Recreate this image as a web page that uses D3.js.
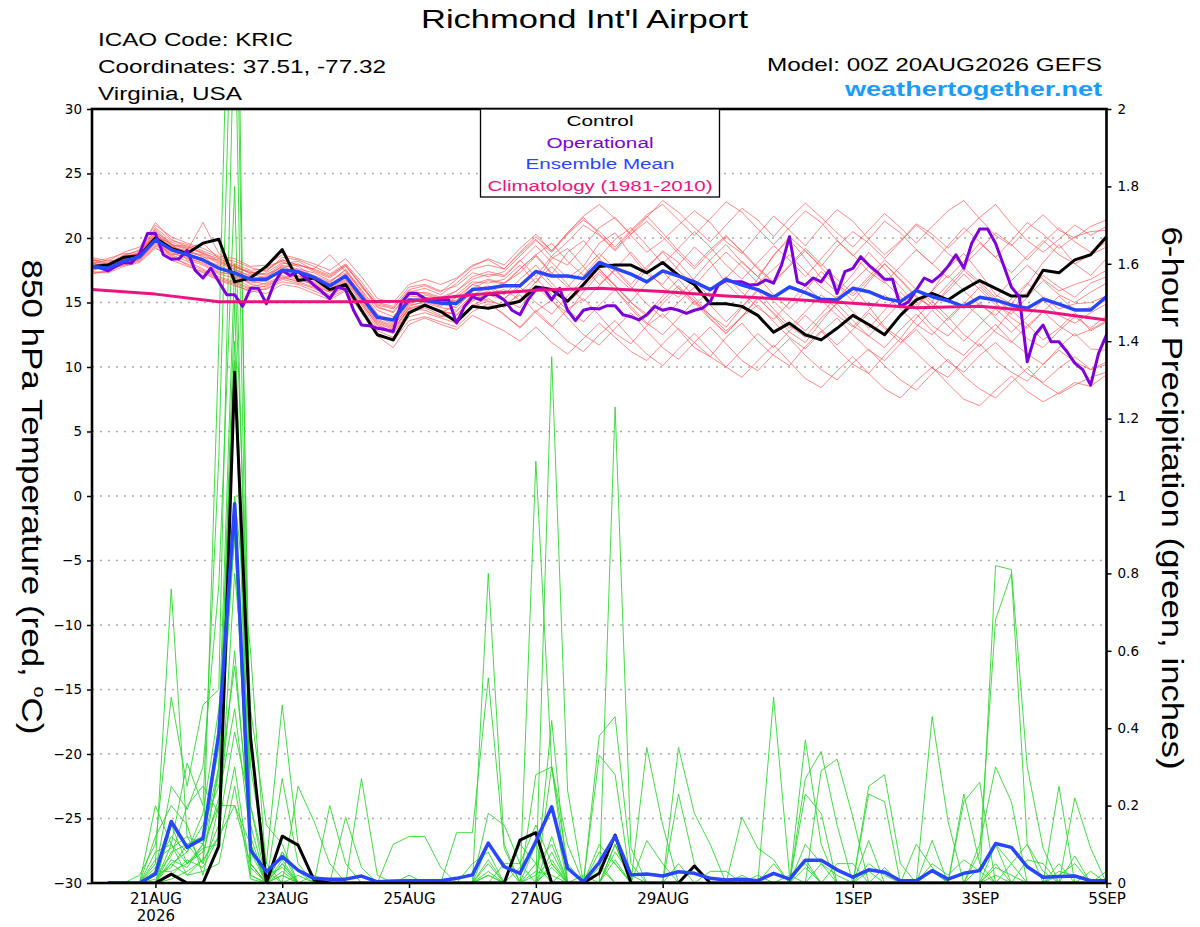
<!DOCTYPE html>
<html>
<head>
<meta charset="utf-8">
<script src="https://cdn.jsdelivr.net/npm/d3@7"></script>
<style>
  body { margin: 0; background: #fff; }
  svg text { font-family: "Liberation Sans", Arial, Helvetica, sans-serif; }
  .tick text { font-family: "DejaVu Sans", sans-serif; }
</style>
</head>
<body>
<svg id="chart" width="1200" height="927"></svg>
<script>
// ---- data (850 hPa temp in C, 6-hour precip in inches) ----
// ensemble / control steps are 6-hourly from 00Z 20AUG2026, operational is 3-hourly
const tickDays = ['2026-08-21', '2026-08-23', '2026-08-25', '2026-08-27', '2026-08-29', '2026-09-01', '2026-09-03', '2026-09-05']
const tickLabels = ['21AUG', '23AUG', '25AUG', '27AUG', '29AUG', '1SEP', '3SEP', '5SEP']
const tempTicks = [30, 25, 20, 15, 10, 5, 0, -5, -10, -15, -20, -25, -30]
const precipTicks = [0, 0.2, 0.4, 0.6, 0.8, 1, 1.2, 1.4, 1.6, 1.8, 2]

const controlTemp = [17.8,17.9,18.5,18.6,20.0,19.2,18.8,19.6,19.9,16.6,16.9,17.8,19.1,16.7,16.9,16.0,16.4,14.4,12.5,12.1,14.2,14.8,
  14.3,13.5,14.7,14.55,14.8,15.1,16.2,16.0,15.1,16.4,17.8,17.9,17.9,17.3,18.1,17.1,16.4,14.9,14.9,14.7,14.0,
  12.7,13.4,12.5,12.1,13.0,14.0,13.3,12.5,14.0,15.2,15.7,15.2,16.0,16.7,16.1,15.5,15.5,17.5,17.3,18.3,18.7,20.1]
const meanTemp = [17.8,17.65,18.2,18.55,19.85,19.1,18.7,18.3,17.65,17.3,16.8,16.8,17.5,17.4,16.95,16.3,17.05,15.45,13.85,13.65,15.2,15.15,
  14.95,14.95,16.0,16.1,16.3,16.3,17.4,17.05,17.05,16.85,18.1,17.65,17.2,16.6,17.45,17.05,16.6,16.0,16.8,16.35,16.0,
  15.4,16.2,15.76,15.25,15.2,16.1,15.84,15.32,15.07,15.92,15.45,15.14,14.68,15.4,15.2,14.8,14.55,15.27,14.88,14.42,14.42,15.45]
const operationalTemp = [17.8,17.7,17.45,17.8,18.1,18.05,18.8,20.35,20.35,18.7,18.35,18.4,19.05,17.5,16.9,17.65,
  16.6,15.6,15.6,14.7,16.1,16.1,14.9,16.5,17.5,17.1,17.4,16.9,16.35,15.85,15.3,16.2,
  16.0,14.4,13.25,13.2,13.0,12.9,12.75,14.95,15.7,15.7,15.3,15.2,15.2,15.2,13.4,14.7,
  15.45,15.2,15.65,15.6,15.2,14.4,14.05,15.2,16.0,16.1,15.2,16.1,14.4,13.6,14.4,14.55,
  14.5,14.75,14.75,14.05,13.9,13.65,14.05,14.7,14.4,14.55,14.4,14.15,14.4,14.55,15.05,16.35,
  16.7,16.6,16.6,16.35,16.4,16.75,16.5,17.9,20.1,16.6,16.35,16.9,16.6,17.5,15.7,17.4,
  17.65,18.55,17.9,17.4,16.8,16.8,14.7,15.05,15.97,16.9,16.6,17.1,17.8,18.7,17.65,19.6,
  20.7,20.7,19.6,17.9,16.2,15.45,10.4,12.5,13.25,11.96,11.96,11.2,10.3,9.8,8.6,11.06,12.5]
// climatology is daily (00Z each day)
const climatology = [16.0,15.65,15.05,15.05,15.05,15.1,15.6,15.95,16.1,15.85,15.5,15.25,14.95,14.6,14.7,14.3,13.65]

// precipitation starts with the period ending 06Z 20AUG
const controlPrecip = [0,0,0,0,.023,0,0,.096, 1.32,.377,0,.121,.098,.008,0,0, 0,0,0,0,0,0,0,0,
  0,0,.111,.13,0,0,0,.025, .124,0,0,0,0,.044,0,0, 0,0,0,0,0,0,0,0, 0,0,0,0,0,0,0,0, 0,0,0,0,0,0,0,0]
const meanPrecip = [0,0,0,.023,.159,.092,.115,.387, .98,.085,.029,.068,.033,.012,.01,.01,
  .018,.003,.005,.006,.006,.006,.012,.021, .103,.042,.025,.107,.197,.038,.003,.053,
  .121,.021,.023,.018,.029,.025,.012,.008, .01,.006,.025,.01,.059,.059,.034,.015,
  .034,.028,.006,.006,.032,.01,.025,.032, .102,.092,.042,.015,.017,.018,.006,.006]

const tempMember01 = [17.5,17.9,18.4,18.9,20.6,19.4,18.9,18.7,18.0,17.6,17.0,17.3,18.1,17.8,17.0,16.5,17.6,15.9,14.1,13.4,15.0,15.6,15.2,15.9,16.8,17.2,
  17.0,18.2,19.4,18.1,16.9,17.8,19.6,20.4,18.7,17.2,16.4,17.9,19.3,18.2,16.5,15.3,16.8,18.7,19.9,18.4,16.9,15.8,17.2,18.9,17.6,16.2,14.8,15.9,17.7,18.8,17.3,15.6,14.9,16.4,18.1,19.5,18.0,17.1,18.4]
const tempMember02 = [18.1,17.7,18.0,18.7,20.1,19.6,18.3,17.9,17.2,16.9,16.2,16.5,17.1,16.8,16.4,15.8,16.6,15.0,13.2,12.8,14.5,14.9,14.3,14.1,15.2,15.6,
  15.2,14.6,16.3,15.1,14.2,15.8,17.2,16.0,14.5,13.3,14.9,16.1,15.2,13.8,12.6,13.9,15.4,14.1,12.7,11.9,13.5,15.0,16.2,14.7,13.1,12.2,13.8,15.1,13.9,12.5,11.6,12.9,14.4,13.3,12.1,13.0,14.2,12.8,13.5]
const tempMember03 = [17.3,17.4,18.6,19.1,21.2,19.9,19.3,18.9,18.2,17.8,17.4,17.1,18.0,18.2,17.5,17.0,17.9,16.3,14.6,14.3,15.8,16.1,15.6,16.5,17.6,17.9,
  17.6,18.8,19.9,18.5,17.9,19.3,20.8,21.6,20.2,18.9,19.8,21.0,22.1,21.2,19.7,18.8,20.3,21.7,20.6,19.4,20.9,22.2,21.3,19.9,18.7,19.8,21.1,20.3,19.2,20.4,21.6,22.6,21.1,19.8,18.9,19.9,21.0,20.2,20.9]
const tempMember04 = [17.9,17.6,17.9,18.3,19.4,18.7,18.2,17.6,17.0,16.6,16.1,16.0,16.8,16.5,16.1,15.5,16.2,14.6,12.8,12.3,13.9,14.2,13.8,13.4,14.7,15.1,
  14.8,15.6,14.2,13.1,14.5,15.3,14.0,12.6,11.8,13.2,14.1,12.9,11.5,10.8,12.3,13.4,12.0,10.9,10.1,11.6,12.8,11.4,10.2,9.5,10.9,12.2,11.1,9.9,9.2,10.6,11.8,10.5,9.6,8.9,10.2,11.3,10.4,9.8,10.4]
const tempMember05 = [18.3,18.1,18.5,18.6,20.0,19.3,19.0,21.2,18.8,18.0,17.5,17.6,18.3,17.9,17.6,18.7,17.4,16.2,14.9,14.6,15.9,15.7,15.3,15.1,16.4,16.0,
  16.5,17.3,18.6,17.2,18.9,19.8,18.4,17.1,16.0,17.6,19.0,18.1,16.7,15.4,16.9,18.2,17.0,15.6,14.5,15.9,17.4,16.3,15.1,16.6,18.0,16.8,15.5,14.6,16.1,17.5,16.4,15.2,14.4,15.8,17.1,16.2,15.4,16.5,17.0]
const tempMember06 = [17.6,17.8,18.3,18.4,19.6,18.9,18.4,18.1,17.4,17.1,16.6,16.9,17.3,17.0,16.8,16.1,16.9,15.3,13.6,13.1,14.8,15.0,14.6,14.4,15.6,16.2,
  15.3,16.4,17.5,16.2,15.0,16.1,17.4,16.3,15.0,14.1,15.5,16.8,15.4,14.0,13.1,14.6,15.9,14.5,13.2,12.3,13.8,14.9,13.6,12.4,11.5,12.9,14.1,12.8,11.7,10.9,12.2,13.3,12.0,11.0,10.2,11.5,12.6,11.4,11.3]
const tempMember07 = [18.0,18.3,18.1,18.8,20.4,19.7,19.2,19.6,18.4,17.9,17.2,16.9,17.9,17.6,17.3,16.7,17.3,16.0,14.4,13.9,15.5,15.4,15.1,15.6,16.6,16.5,
  16.8,17.9,16.5,18.4,19.2,17.8,16.4,17.6,18.9,17.5,16.2,15.4,16.9,18.3,19.5,18.1,17.0,18.6,20.1,19.0,17.8,19.3,20.5,19.6,18.4,19.7,21.0,20.0,18.8,17.9,19.1,20.4,19.5,18.3,19.6,20.8,19.7,18.9,19.7]
const tempMember08 = [17.7,17.5,18.2,18.5,19.9,18.5,18.0,17.5,16.9,16.5,16.0,16.3,16.9,17.1,16.5,15.9,16.7,15.1,13.4,12.9,14.6,14.8,14.4,14.0,15.1,15.7,
  16.0,15.2,16.6,17.8,16.4,15.1,16.3,17.5,16.2,14.9,13.8,15.0,16.2,14.8,13.5,14.7,16.0,15.1,13.9,12.8,14.1,15.5,14.3,13.0,14.4,15.8,14.6,13.2,12.4,13.7,15.0,13.8,12.7,13.9,15.2,14.0,13.4,14.2,14.9]
const tempMember09 = [18.4,18.0,18.7,19.0,20.8,19.8,19.5,19.0,18.5,18.2,17.7,17.4,18.5,18.3,17.8,17.2,18.0,16.6,15.0,14.7,16.2,16.4,15.9,16.3,17.3,17.0,
  17.4,18.6,19.8,18.9,20.3,21.4,20.5,19.3,20.6,21.8,22.6,21.4,20.2,21.5,22.8,22.0,20.7,19.5,20.8,22.1,21.2,19.8,18.6,19.9,21.3,20.4,19.1,18.0,19.4,20.8,19.7,18.5,19.8,21.2,20.3,19.2,20.1,20.5,20.6]
const tempMember10 = [17.4,17.3,17.8,18.1,19.2,18.6,17.9,17.3,16.7,16.3,15.9,15.7,16.4,16.2,15.7,15.2,15.9,14.4,12.6,12.0,13.6,13.9,13.5,13.1,14.3,14.9,
  14.1,13.0,14.3,15.2,13.8,12.5,11.7,13.0,14.2,12.8,11.5,10.6,11.9,13.1,11.8,10.5,9.7,11.0,12.2,10.9,9.8,9.0,10.3,11.4,10.1,9.0,8.2,9.5,10.6,9.3,8.3,7.6,8.8,9.9,8.7,7.9,8.6,9.2,9.6]
const tempMember11 = [18.2,18.4,18.8,18.7,20.3,19.5,19.1,18.5,18.3,17.5,17.1,17.8,18.2,17.4,16.9,16.4,17.2,15.7,14.0,13.6,15.3,15.2,14.8,15.2,16.1,16.7,
  16.4,17.6,18.7,19.6,18.2,17.1,18.5,19.9,20.8,19.4,18.0,19.2,20.5,19.3,17.9,16.8,18.1,19.4,18.3,17.0,18.4,19.8,18.7,17.4,16.5,17.8,19.1,18.0,16.9,18.2,19.6,18.5,17.3,18.6,19.8,18.7,18.0,18.7,19.3]
const tempMember12 = [17.8,17.9,18.3,18.8,20.1,19.2,18.8,18.4,17.7,17.4,16.9,16.6,17.6,17.5,17.1,16.6,17.5,15.8,13.9,13.3,14.9,15.3,14.9,14.6,15.9,16.3,
  15.6,16.8,17.9,16.5,15.2,16.4,17.6,16.3,15.0,13.9,15.2,16.3,15.0,13.7,12.6,13.9,14.8,13.5,12.3,11.4,12.7,13.8,12.5,11.3,10.5,11.8,12.9,11.6,10.4,9.6,10.9,11.9,10.7,9.5,8.8,9.9,10.8,9.8,10.2]
const tempMember13 = [17.6,17.7,18.1,18.5,19.7,19.0,18.6,18.2,17.8,17.0,16.5,16.7,17.4,16.9,16.3,15.8,16.4,14.8,13.0,12.6,14.2,14.6,14.0,13.7,14.8,15.3,
  14.6,15.8,16.9,15.6,14.4,13.5,14.8,16.0,14.7,13.4,12.5,13.8,15.1,14.0,12.8,13.9,15.3,14.2,13.0,14.3,15.6,14.5,13.2,12.4,13.7,15.0,16.1,14.8,13.6,14.9,16.2,15.0,13.8,13.0,14.3,15.5,14.4,14.6,15.2]
const tempMember14 = [18.5,18.2,18.9,19.3,21.0,20.1,19.6,19.2,18.6,18.4,17.8,17.9,18.7,18.4,18.0,17.5,18.4,17.0,15.3,15.0,16.4,16.8,16.4,16.9,17.9,18.3,
  17.6,18.9,20.1,19.0,20.4,21.7,22.6,21.5,20.3,21.6,22.9,22.0,20.8,19.7,21.0,22.3,21.4,20.1,21.5,22.7,21.6,20.4,19.3,20.6,21.9,20.8,19.6,20.9,22.1,22.9,21.5,20.2,19.4,20.7,21.8,20.6,20.0,20.9,21.4]
const tempMember15 = [17.9,17.6,18.0,18.4,19.5,18.8,18.5,18.0,17.3,17.2,16.7,16.4,17.0,16.6,16.2,15.6,16.3,14.9,13.3,12.7,14.3,14.7,14.2,14.8,15.7,15.1,
  14.0,13.1,14.4,13.2,12.0,11.2,12.5,13.6,12.2,11.0,10.1,11.4,12.6,11.3,10.0,9.2,10.5,11.7,10.4,9.1,8.4,9.7,10.8,9.5,8.3,7.6,8.9,10.0,8.7,7.5,7.0,8.2,9.3,8.1,7.3,8.0,8.8,8.5,9.4]
const tempMember16 = [18.0,17.8,18.5,18.9,20.2,19.4,19.4,18.8,18.1,17.7,17.3,17.2,17.7,18.0,17.4,16.9,17.8,16.3,14.7,14.2,15.7,15.8,15.4,15.9,17.0,17.4,
  17.1,18.3,17.0,18.6,19.7,21.0,20.2,19.0,20.3,21.3,20.1,18.8,17.6,18.9,20.1,19.0,17.7,16.6,17.9,19.2,18.0,16.8,15.7,17.0,18.3,17.2,16.0,15.1,16.4,17.7,16.6,15.4,16.7,17.9,16.8,15.9,16.4,16.8,17.5]
const tempMember17 = [17.2,17.5,17.9,18.2,19.3,18.3,17.8,17.4,16.8,16.4,15.8,16.1,16.6,16.4,15.9,15.4,16.0,14.2,12.4,11.5,13.3,13.8,13.3,12.9,14.0,13.4,
  12.8,12.0,13.1,11.9,11.0,12.2,13.4,12.3,11.2,10.5,11.8,13.0,11.9,10.8,10.0,11.3,12.6,11.5,12.8,14.0,12.9,11.7,12.9,14.2,13.0,11.9,13.1,14.4,13.2,12.0,13.3,14.5,13.4,12.2,11.5,12.8,13.9,13.0,14.0]
const tempMember18 = [18.3,17.9,18.4,18.6,20.5,19.0,18.6,18.3,17.9,17.3,16.8,17.0,17.8,17.3,16.7,16.2,17.0,15.4,13.7,13.2,14.7,15.1,14.7,15.4,16.4,16.8,
  16.5,17.6,18.7,17.3,16.2,17.5,18.8,17.6,16.4,17.8,18.9,17.5,16.3,17.7,18.9,17.8,16.5,17.6,18.7,17.4,16.2,15.3,16.6,17.8,16.6,15.4,14.6,15.9,17.1,15.9,14.8,14.0,15.3,16.5,15.4,14.5,14.9,15.0,15.5]
const tempMember19 = [17.5,17.8,18.2,18.3,19.8,18.7,18.9,18.6,17.6,17.2,16.4,16.2,16.9,16.7,16.6,16.0,16.8,15.2,13.5,13.0,14.5,14.4,13.9,14.3,15.4,15.9,
  15.3,16.2,15.0,14.1,15.5,16.8,17.6,16.3,15.1,16.5,17.4,16.1,14.8,15.9,17.0,15.8,14.6,13.7,15.0,16.3,15.2,14.0,13.1,14.4,15.6,14.5,13.3,12.5,13.8,15.0,13.9,12.7,11.9,13.2,14.3,13.2,12.4,12.9,13.6]
const tempMember20 = [18.1,18.0,18.6,18.7,20.7,19.5,19.2,18.8,18.4,17.8,17.3,17.5,18.3,17.9,17.6,17.1,17.9,16.4,14.8,14.5,16.0,16.3,15.8,16.8,17.8,18.4,
  17.9,19.2,20.3,19.0,20.4,21.6,20.3,19.1,20.5,21.7,20.4,19.0,17.8,19.1,20.2,18.9,17.6,16.5,17.8,19.0,17.7,16.4,15.5,16.8,18.0,16.7,15.4,14.6,15.9,17.2,16.0,14.8,14.1,15.4,16.7,15.6,15.0,15.8,16.5]

const precipMember01 = [0,0,0,.05,.76,.12,.05,1.4, 3.0,.05,0,.27,.05,0,0,0, 0,0,0,0,0,0,0,0, .02,0,0,1.09,.3,.05,0,0,
  0,0,0,0,0,0,0,0, 0,0,0,0,.37,.1,0,0, 0,0,0,0,0,0,0,0, .05,0,0,0,0,0,0,0]
const precipMember02 = [0,0,0,.2,.1,.31,.2,1.1, 2.6,.3,.05,.46,.1,0,0,0, .27,.02,0,0,0,0,0,0, .8,.1,0,0,.42,0,0,0,
  .1,0,0,0,0,0,0,0, 0,0,.48,.02,0,0,0,0, 0,0,0,0,.11,0,0,0, .82,.81,.3,.09,0,0,0,0]
const precipMember03 = [0,0,.02,.1,.48,.25,.46,.5, 2.3,.1,0,0,.25,.16,.05,0, 0,0,0,0,0,0,0,0, .18,.15,.05,0,1.36,.24,0,.05,
  0,0,0,0,.35,.18,.1,0, 0,0,0,0,.27,.34,.15,0, 0,0,0,0,0,0,0,.08, .68,.8,.1,0,0,.07,0,0]
const precipMember04 = [0,0,0,.03,.25,.19,.3,.77, 1.8,.2,0,.08,0,0,0,.17, .04,0,0,0,0,0,.13,.13, .53,.09,0,0,0,0,0,0,
  1.23,.09,0,0,0,0,0,0, 0,0,0,0,0,0,0,0, .25,.28,.05,0,0,0,0,0, 0,0,0,0,.25,0,0,0]
const precipMember05 = [0,0,0,0,.15,.05,.1,.39, 1.6,.45,.15,.1,0,0,.2,.05, 0,0,0,0,0,0,0,0, 0,0,0,.28,.3,0,0,.38,
  .43,.05,0,0,0,0,0,0, 0,0,0,0,0,.29,.32,.17, 0,0,0,0,0,0,.21,.26, 0,0,0,0,0,.22,.09,0]
const precipMember06 = [0,0,0,.08,.1,.02,.06,.3, 1.5,.08,0,.05,0,0,0,0, 0,0,.1,.12,.12,.04,0,0, 0,0,0,0,0,0,0,.33,
  .28,0,.35,.15,0,0,0,0, 0,0,0,0,0,0,0,0, 0,0,0,0,.43,.16,0,0, 0,0,0,0,0,0,0,.03]
const precipMember07 = [0,0,0,.12,.2,.15,.02,.2, 1.0,.6,.02,.04,0,.02,0,0, 0,0,0,0,0,0,0,0, .05,0,0,.05,.1,0,0,0,
  0,0,0,0,.23,.05,0,0, .17,.09,.06,0,0,0,0,0, .23,.21,0,0,0,0,0,.1, .3,.21,0,0,.05,0,0,0]
const precipMember08 = [0,0,0,0,.05,.08,.15,.25, .56,.15,0,.06,0,0,0,0, 0,0,0,0,0,0,0,0, .1,.05,0,0,.3,.1,0,0,
  0,0,0,0,0,0,0,0, 0,0,0,0,.23,.18,0,0, .11,0,0,0,0,0,.23,.05, 0,0,0,0,0,0,0,0]
const precipMember09 = [0,0,0,.02,.04,.1,.12,.35, 1.4,.1,0,.03,0,0,0,0, 0,0,0,.02,0,0,0,0, 0,0,0,.1,.2,0,0,0,
  .1,0,0,0,0,0,.03,.03, 0,0,0,0,0,0,.05,.05, 0,0,0,.1,.04,0,0,0, 0,0,0,0,0,0,0,0]
const precipMember10 = [0,0,0,0,.08,.1,.05,.15, .39,.2,.03,0,0,0,0,0, 0,0,0,0,0,0,0,.05, .08,0,.1,.05,0,0,0,.1,
  .05,0,0,0,0,0,0,0, 0,0,0,0,0,0,0,0, 0,0,0,0,0,0,0,0, 0,.05,.1,.03,0,0,0,0]
const precipMember11 = [0,0,0,.04,.12,.08,.18,.45, .9,.05,0,0,0,0,0,0, 0,0,0,0,0,0,0,0, 0,0,0,0,.08,0,0,0,
  0,0,.11,.05,0,0,0,0, 0,0,0,0,0,0,0,0, 0,0,0,0,0,0,0,0, .1,.05,0,0,0,0,0,0]
const precipMember12 = [0,0,0,0,.06,.04,.1,.2, .2,.1,0,.05,0,0,0,0, 0,0,0,0,0,0,0,0, 0,.05,.05,.15,.05,0,0,0,
  0,0,0,0,0,0,0,0, 0,0,.05,0,.1,.05,0,0, 0,0,0,0,0,0,0,0, 0,0,0,0,0,0,.03,0]
const precipMember13 = [0,0,0,.06,.09,.12,.1,.28, 1.35,.02,0,.02,0,0,0,0, 0,0,0,0,0,0,0,0, 0,0,0,0,0,.04,0,0,
  .06,0,0,0,0,0,0,0, .02,0,0,0,0,0,0,0, 0,0,0,0,0,0,0,.04, .1,0,0,0,0,0,0,0]
const precipMember14 = [0,0,0,0,.02,.06,.04,.12, .8,.35,.05,0,0,0,0,0, 0,0,0,0,0,0,0,0, .03,0,0,0,.05,0,0,0,
  0,0,0,0,0,0,0,0, 0,0,0,.02,.05,0,0,0, .05,.02,0,0,0,0,0,0, 0,0,0,0,0,0,0,0]
const precipMember15 = [0,0,0,.02,.07,.2,.25,.18, .6,.1,0,.08,.03,0,0,0, 0,0,0,0,0,0,0,0, 0,0,.04,.1,0,0,.02,0,
  0,0,0,0,.05,0,0,0, 0,0,0,0,0,0,0,0, 0,0,0,0,0,0,0,0, 0,0,0,0,.02,.05,0,0]
const precipMember16 = [0,0,0,0,.1,.05,.08,.22, .45,.12,0,0,.02,0,0,0, 0,0,0,0,0,0,0,0, .06,0,0,0,.12,0,0,.08,
  .05,0,0,0,0,0,0,0, 0,0,0,0,0,0,0,0, 0,0,0,0,.05,.02,.06,.03, 0,0,0,0,0,0,0,0]
const precipMember17 = [0,0,0,.03,.03,.05,.09,.1, .3,.02,0,0,0,0,0,0, 0,0,0,0,0,0,0,0, 0,0,0,.02,.06,0,0,0,
  0,0,0,0,0,0,0,0, 0,0,0,0,0,.05,.02,0, 0,.04,0,0,0,0,0,0, .04,.02,0,0,0,0,0,0]
const precipMember18 = [0,0,0,0,.15,.1,.12,.3, .9,.04,0,.02,0,0,0,0, 0,0,0,0,0,0,0,0, .02,0,0,0,0,0,0,0,
  .08,.02,0,0,0,0,0,0, 0,0,0,0,.06,0,0,0, .03,0,0,0,0,0,0,0, 0,0,.06,.05,0,0,0,0]
const precipMember19 = [0,0,0,0,.01,.03,.06,.12, .2,.05,0,0,0,0,0,0, 0,0,0,0,0,0,0,0, 0,0,0,0,.04,0,0,.04,
  0,0,0,0,0,0,0,0, 0,.02,0,0,0,0,0,0, 0,0,0,0,.03,0,0,0, .02,0,0,0,0,0,0,0]
const precipMember20 = [0,0,0,.01,.05,.02,.03,.05, .25,.01,0,0,0,0,0,0, 0,0,0,0,0,0,0,0, 0,0,0,.03,.02,0,0,0,
  0,0,0,0,0,0,0,0, 0,0,0,0,.04,0,0,0, 0,0,0,0,0,0,0,0, 0,0,0,0,.03,.02,0,0]

const tempMembers = [tempMember01, tempMember02, tempMember03, tempMember04, tempMember05, tempMember06, tempMember07,
  tempMember08, tempMember09, tempMember10, tempMember11, tempMember12, tempMember13, tempMember14, tempMember15,
  tempMember16, tempMember17, tempMember18, tempMember19, tempMember20]
const precipMembers = [precipMember01, precipMember02, precipMember03, precipMember04, precipMember05, precipMember06,
  precipMember07, precipMember08, precipMember09, precipMember10, precipMember11, precipMember12, precipMember13,
  precipMember14, precipMember15, precipMember16, precipMember17, precipMember18, precipMember19, precipMember20]

// ---- chart ----
const svg = d3.select('#chart')
const box = {left: 92, right: 1106.5, top: 109, bottom: 883}
const HOUR = 36e5
const start = Date.UTC(2026, 7, 20, 0)
const at = h => new Date(start + h * HOUR)
const parseDay = d3.utcParse('%Y-%m-%d')

let x = d3.scaleUtc().domain([at(0), at(384)]).range([box.left, box.right])
let yT = d3.scaleLinear().domain([-30, 30]).range([box.bottom, box.top])
let yP = d3.scaleLinear().domain([0, 2]).range([box.bottom, box.top])

svg.append('rect').attr('width', 1200).attr('height', 927).attr('fill', '#fff')
svg.append('defs').append('clipPath').attr('id', 'plotArea')
  .append('rect').attr('x', box.left).attr('y', box.top)
  .attr('width', box.right - box.left).attr('height', box.bottom - box.top)

// dotted grid on the temperature ticks
svg.append('g').selectAll('line')
  .data(tempTicks.filter(d => Math.abs(d) < 30))
  .join('line')
  .attr('x1', box.left).attr('x2', box.right)
  .attr('y1', d => yT(d)).attr('y2', d => yT(d))
  .attr('stroke', '#a8a8a8').attr('stroke-width', 1.3).attr('stroke-dasharray', '2 6')

let plot = svg.append('g').attr('clip-path', 'url(#plotArea)')
const tempLine = step => d3.line().x((d, i) => x(at(i * step))).y(d => yT(d))
const precipLine = d3.line().x((d, i) => x(at((i + 1) * 6))).y(d => yP(d))

plot.append('g').selectAll('path').data(precipMembers).join('path')
  .attr('d', precipLine).attr('fill', 'none').attr('stroke', '#2ed82e').attr('stroke-width', 0.9)
plot.append('g').selectAll('path').data(tempMembers).join('path')
  .attr('d', tempLine(6)).attr('fill', 'none').attr('stroke', '#ff5050').attr('stroke-width', 0.8).attr('stroke-opacity', 0.85)

plot.append('path').datum(controlPrecip).attr('d', precipLine)
  .attr('fill', 'none').attr('stroke', '#000').attr('stroke-width', 3).attr('stroke-linejoin', 'round')
plot.append('path').datum(controlTemp).attr('d', tempLine(6))
  .attr('fill', 'none').attr('stroke', '#000').attr('stroke-width', 3).attr('stroke-linejoin', 'round')
plot.append('path').datum(operationalTemp).attr('d', tempLine(3))
  .attr('fill', 'none').attr('stroke', '#7d00dc').attr('stroke-width', 3).attr('stroke-linejoin', 'round')
plot.append('path').datum(meanPrecip).attr('d', precipLine)
  .attr('fill', 'none').attr('stroke', '#2846ff').attr('stroke-width', 3.5).attr('stroke-linejoin', 'round')
plot.append('path').datum(meanTemp).attr('d', tempLine(6))
  .attr('fill', 'none').attr('stroke', '#2846ff').attr('stroke-width', 3.5).attr('stroke-linejoin', 'round')
plot.append('path').datum(climatology).attr('d', tempLine(24))
  .attr('fill', 'none').attr('stroke', '#ec1380').attr('stroke-width', 3).attr('stroke-linejoin', 'round')

// axes
const styleAxis = (g, size) => {
  g.select('.domain').remove()
  g.selectAll('.tick line').attr('stroke', '#000').attr('stroke-width', 1.5)
  g.selectAll('.tick text').attr('fill', '#000').style('font-size', size + 'px')
}
svg.append('g').attr('transform', `translate(${box.left},0)`)
  .call(d3.axisLeft(yT).tickValues(tempTicks).tickSize(5).tickPadding(5))
  .call(g => styleAxis(g, 13.5))
svg.append('g').attr('transform', `translate(${box.right},0)`)
  .call(d3.axisRight(yP).tickValues(precipTicks).tickFormat(d3.format('~g')).tickSize(5).tickPadding(6))
  .call(g => styleAxis(g, 13.5))
let xAxis = svg.append('g').attr('transform', `translate(0,${box.bottom})`)
  .call(d3.axisBottom(x).tickValues(tickDays.map(parseDay)).tickFormat((d, i) => tickLabels[i]).tickSize(5).tickPadding(5))
  .call(g => styleAxis(g, 15))
xAxis.select('.tick text').append('tspan').attr('x', 0).attr('dy', '1.15em').text('2026')

svg.append('rect').attr('x', box.left).attr('y', box.top)
  .attr('width', box.right - box.left).attr('height', box.bottom - box.top)
  .attr('fill', 'none').attr('stroke', '#000').attr('stroke-width', 2.6)

// legend
let legend = svg.append('g')
legend.append('rect').attr('x', 480.5).attr('y', box.top).attr('width', 239).attr('height', 88)
  .attr('fill', '#fff').attr('stroke', '#000').attr('stroke-width', 1.3)
const legendRows = [
  {label: 'Control', color: '#000', w: 67, y: 126},
  {label: 'Operational', color: '#7d00dc', w: 107, y: 147.5},
  {label: 'Ensemble Mean', color: '#2846ff', w: 149, y: 169},
  {label: 'Climatology (1981-2010)', color: '#ec1380', w: 225, y: 190.5}
]
legend.selectAll('text').data(legendRows).join('text')
  .attr('x', 600).attr('y', d => d.y).attr('text-anchor', 'middle')
  .attr('textLength', d => d.w).attr('lengthAdjust', 'spacingAndGlyphs')
  .attr('font-size', 15.5).attr('fill', d => d.color).text(d => d.label)

// headings
const addText = (t, xPos, yPos, size, len, opts = {}) => svg.append('text')
  .attr('x', xPos).attr('y', yPos).attr('font-size', size)
  .attr('textLength', len).attr('lengthAdjust', 'spacingAndGlyphs')
  .attr('fill', opts.color || '#000').attr('font-weight', opts.weight || 'normal').text(t)
addText("Richmond Int'l Airport", 421, 28, 26.5, 327)
addText('ICAO Code: KRIC', 98, 46, 19, 195)
addText('Coordinates: 37.51, -77.32', 98, 73, 19, 288)
addText('Virginia, USA', 98, 100, 19, 144)
addText('Model: 00Z 20AUG2026 GEFS', 767, 71, 19, 335)
addText('weathertogether.net', 845, 96, 20, 257, {color: '#1a9cff', weight: 'bold'})

// rotated axis titles (read top to bottom)
let leftTitle = svg.append('text').attr('transform', 'translate(21.5,497) rotate(90)')
  .attr('text-anchor', 'middle').attr('font-size', 30)
  .attr('textLength', 475).attr('lengthAdjust', 'spacingAndGlyphs')
leftTitle.append('tspan').text('850 hPa Temperature (red, ')
leftTitle.append('tspan').attr('font-size', 17).attr('dy', -12).text('o')
leftTitle.append('tspan').attr('dy', 12).text('C)')
svg.append('text').attr('transform', 'translate(1161.5,498) rotate(90)')
  .attr('text-anchor', 'middle').attr('font-size', 29)
  .attr('textLength', 543).attr('lengthAdjust', 'spacingAndGlyphs')
  .text('6-hour Precipitation (green, inches)')
</script>
</body>
</html>
